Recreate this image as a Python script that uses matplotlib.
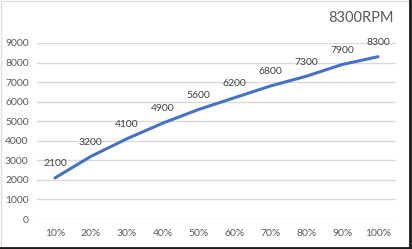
import matplotlib
matplotlib.use("Agg")
import matplotlib.pyplot as plt
from matplotlib.lines import Line2D

categories = ["10%", "20%", "30%", "40%", "50%", "60%", "70%", "80%", "90%", "100%"]
rpm = [2100, 3200, 4100, 4900, 5600, 6200, 6800, 7300, 7900, 8300]
yticks = [0, 1000, 2000, 3000, 4000, 5000, 6000, 7000, 8000, 9000]
title = "8300RPM"

plt.rcParams['font.family'] = ['Lato', 'DejaVu Sans']

W, H = 412, 249
fig = plt.figure(figsize=(W / 100, H / 100), dpi=100)
fig.patch.set_facecolor('white')

ax = fig.add_axes([37 / W, 30 / H, (396 - 37) / W, (219 - 43) / H])
x = list(range(len(categories)))
ax.plot(x, rpm, color='#4472C4', lw=2.2, solid_capstyle='round', zorder=3)
for xi, v in zip(x, rpm):
    ax.annotate(str(v), (xi, v), xytext=(0, 7), textcoords='offset points',
                ha='center', va='bottom', fontsize=7.5, color='#404040')

ax.set_xlim(-0.5, len(categories) - 0.5)
ax.set_ylim(0, 9000)
ax.set_yticks(yticks)
ax.set_yticklabels([str(t) for t in yticks])
ax.set_xticks(x)
ax.set_xticklabels(categories)
ax.tick_params(axis='both', length=0, labelsize=7.5, colors='#595959')
ax.tick_params(axis='y', pad=6)
ax.tick_params(axis='x', pad=7)
ax.grid(axis='y', color='#D9D9D9', lw=1)
ax.set_axisbelow(True)
for s in ax.spines.values():
    s.set_visible(False)

fig.text(394 / W, 1 - 18 / H, title, ha='right', va='center', fontsize=10.5, color='#595959')

# outer frame
fig.add_artist(Line2D([1 / W, 408 / W], [1 - 1 / H, 1 - 1 / H], transform=fig.transFigure, color='#E0E0E0', lw=1))
fig.add_artist(Line2D([1 / W, 1 / W], [1 - 1 / H, 2 / H], transform=fig.transFigure, color='#E0E0E0', lw=1))
fig.add_artist(Line2D([409.5 / W, 409.5 / W], [0, 1], transform=fig.transFigure, color='#1A1A1A', lw=2))
fig.add_artist(Line2D([0, 1], [1.5 / H, 1.5 / H], transform=fig.transFigure, color='#1A1A1A', lw=2))

fig.savefig('out.png', dpi=100)
